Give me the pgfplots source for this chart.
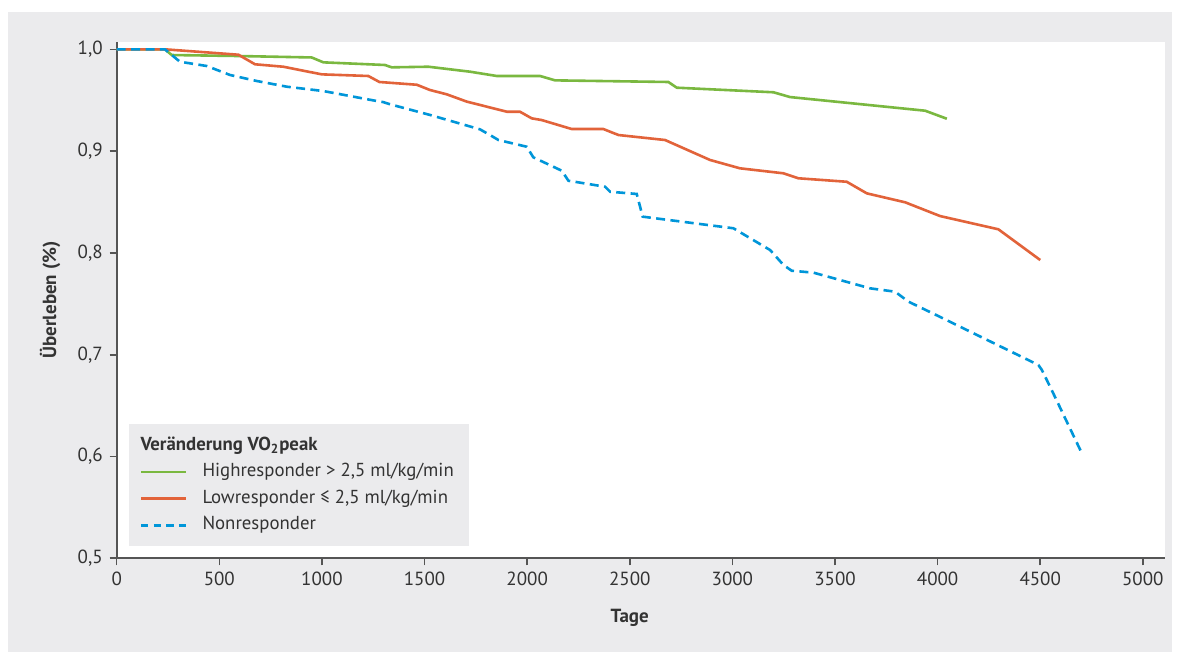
\documentclass[border=0pt]{standalone}
\usepackage{fontspec}
\setmainfont{PT Sans}
\usepackage{pgfplots}
\pgfplotsset{compat=1.18}
\definecolor{panel}{HTML}{EBEBED}
\definecolor{hgreen}{HTML}{7AB840}
\definecolor{lorange}{HTML}{E2633A}
\definecolor{nblue}{HTML}{0096D9}
\definecolor{axisgray}{HTML}{555555}
\definecolor{textgray}{HTML}{333333}
\begin{document}
\begin{tikzpicture}
\path[use as bounding box] (-58.35pt,-46.85pt) rectangle (530.65pt,279.15pt);
\fill[panel] (-54.35pt,-46.85pt) rectangle (527.65pt,273.15pt);
\begin{axis}[
  at={(0pt,0pt)}, anchor=south west,
  scale only axis, width=524.15pt, height=258.3pt,
  xmin=0, xmax=5108, ymin=0.5, ymax=1.0075,
  axis lines=left,
  axis line style={-, draw=axisgray, line width=0.9pt},
  axis background/.style={fill=white},
  xtick={0,500,1000,1500,2000,2500,3000,3500,4000,4500,5000},
  ytick={0.5,0.6,0.7,0.8,0.9,1.0},
  tick align=outside, major tick length=3.5pt,
  tick style={draw=axisgray, line width=0.8pt},
  /pgf/number format/assume math mode=true,
  tick label style={font=\fontsize{9.5}{11}\selectfont, text=textgray},
  xticklabel style={/pgf/number format/1000 sep={}},
  yticklabel style={/pgf/number format/.cd, use comma, fixed, fixed zerofill, precision=1},
  xlabel={Tage}, ylabel={Überleben (\%)},
  every axis x label/.style={at={(axis description cs:0.4894,0)}, yshift=-29.85pt, anchor=center, font=\bfseries\fontsize{9.5}{11}\selectfont, text=textgray},
  every axis y label/.style={at={(axis description cs:0,0.5)}, xshift=-33.35pt, rotate=90, anchor=center, font=\bfseries\fontsize{9.5}{11}\selectfont, text=textgray},
  no markers,
  legend cell align=left,
  legend image code/.code={\draw[#1] (0pt,0pt) -- (22.5pt,0pt);},
  legend style={at={(axis description cs:0,0)}, xshift=5.8pt, yshift=5.8pt, anchor=south west,
    fill=panel, draw=none, font=\fontsize{9.4}{11}\selectfont, text=textgray,
    inner xsep=5.6pt, inner ysep=5.85pt, row sep=4pt,
    nodes={inner ysep=0pt, text height=7pt, text depth=2.3pt},
    /tikz/every odd column/.append style={column sep=5.5pt}},
]
\addplot[forget plot, draw=hgreen, line width=1.3pt] coordinates {
(0,1.0) (235,1.0) (268,0.9944) (600,0.9934) (950,0.9920) (1007,0.9872)
(1307,0.9846) (1340,0.9823) (1519,0.9829) (1722,0.9780) (1852,0.9738)
(2063,0.9738) (2136,0.9695) (2688,0.9679) (2729,0.9623) (3200,0.9578)
(3281,0.9531) (3939,0.9397) (4045,0.9318)
};
\addplot[forget plot, draw=lorange, line width=1.3pt] coordinates {
(0,1.0) (235,1.0) (593,0.9947) (674,0.9853) (812,0.9829) (999,0.9754)
(1226,0.9738) (1280,0.9679) (1462,0.9652) (1527,0.9600) (1608,0.9558)
(1706,0.9486) (1901,0.9387) (1965,0.9387) (2022,0.9322) (2071,0.9305)
(2217,0.9217) (2371,0.9217) (2445,0.9158) (2672,0.9109) (2891,0.8913)
(3037,0.8831) (3249,0.8782) (3322,0.8733) (3557,0.8699) (3655,0.8585)
(3842,0.8497) (4012,0.8362) (4296,0.8232) (4500,0.7930)
};
\addplot[forget plot, draw=nblue, line width=1.3pt, dash pattern=on 4.5pt off 2.7pt] coordinates {
(0,1.0) (235,1.0) (308,0.9878) (439,0.9836) (552,0.9748) (682,0.9689)
(828,0.9633) (1007,0.9590) (1267,0.9492) (1298,0.9482) (1332,0.9460)
(1527,0.9355) (1770,0.9214) (1819,0.9158) (1860,0.9109) (1998,0.9043)
(2030,0.8939) (2169,0.8807) (2201,0.8709) (2380,0.8650) (2404,0.8601)
(2534,0.8579) (2563,0.8356) (3005,0.8242) (3184,0.8028) (3249,0.7881)
(3289,0.7825) (3395,0.7806) (3671,0.7652) (3793,0.7619) (3858,0.7521)
(4000,0.7383) (4491,0.6899) (4508,0.6850) (4548,0.6686) (4703,0.6031)
};
\addlegendimage{empty legend}
\addlegendentry{\hspace{-31pt}\textbf{Veränderung VO\textsubscript{2}peak}}
\addlegendimage{draw=hgreen, line width=1.3pt}
\addlegendentry{Highresponder > 2,5 ml/kg/min}
\addlegendimage{draw=lorange, line width=1.3pt}
\addlegendentry{Lowresponder ≤ 2,5 ml/kg/min}
\addlegendimage{draw=nblue, line width=1.3pt, dash pattern=on 3.65pt off 2.63pt}
\addlegendentry{Nonresponder}
\end{axis}
\end{tikzpicture}
\end{document}
